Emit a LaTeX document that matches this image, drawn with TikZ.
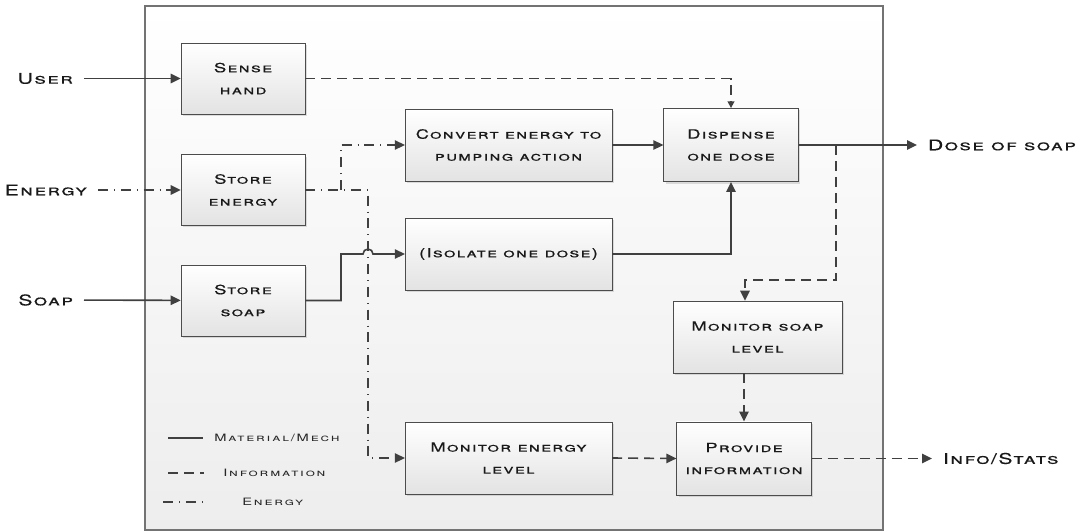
\documentclass[tikz,border=0pt]{standalone}
\usepackage{fontspec}
\setmainfont{TeX Gyre Heros}
\newfontfamily\flowfont{TeX Gyre Heros}[FakeStretch=1.45,LetterSpace=10,FakeBold=0.3]
\newfontfamily\legfont{TeX Gyre Heros}[FakeStretch=1.45,LetterSpace=18]
\usetikzlibrary{arrows.meta,shadows}

\begin{document}
\begin{tikzpicture}[x=0.75pt,y=-0.75pt,
	blk/.style={draw=black!70, top color=white, bottom color=black!11,
		drop shadow={opacity=0.25,shadow xshift=1.5pt,shadow yshift=-1.5pt},
		align=center, text=black!90, inner sep=2pt,
		font=\flowfont\scshape\fontsize{9.5}{16.5}\selectfont},
	sml/.style={minimum width=93pt, minimum height=53pt},
	wde/.style={minimum width=155pt, minimum height=54pt},
	lbl/.style={text=black!90, inner xsep=8pt, inner ysep=2pt,
		font=\flowfont\scshape\fontsize{11}{13}\selectfont},
	leg/.style={text=black!85, anchor=west, inner sep=0pt,
		font=\legfont\scshape\fontsize{7.6}{9}\selectfont},
	tip/.tip={Triangle[length=7.5pt,width=7pt]},
	tipS/.tip={Triangle[length=5pt,width=5pt]},
	mat/.style={draw=black!75, line width=1.2pt},
	inf/.style={draw=black!75, line width=1.2pt, dash pattern=on 7.5pt off 4.5pt},
	nrg/.style={draw=black!75, line width=1.2pt, dash pattern=on 7.5pt off 4.5pt on 0.6pt off 4.5pt}]

\useasboundingbox (0,0) rectangle (1086,532);
% frame
\draw[draw=black!55, top color=white, bottom color=black!7, line width=0.8pt] (145,6) rectangle (883,530);

% blocks
\node[blk, sml] (sense) at (243,78.5) {Sense\\hand};
\node[blk, sml] (ste) at (243,190) {Store\\energy};
\node[blk, sml] (sts) at (243,300.5) {Store\\soap};
\node[blk, wde] (conv) at (508.5,145) {Convert energy to\\pumping action};
\node[blk, wde] (iso) at (508.5,254) {(Isolate one dose)};
\node[blk, wde] (mone) at (508.5,458) {Monitor energy\\level};
\node[blk, minimum width=101pt, minimum height=55pt] (disp) at (731,145) {Dispense\\one dose};
\node[blk, minimum width=127pt, minimum height=54pt] (mons) at (757.5,337) {Monitor soap\\level};
\node[blk, minimum width=101pt, minimum height=55pt] (prov) at (744,458.5) {Provide\\information};

% outside
\node[lbl, anchor=east] (user) at (84,78.5) {User};
\node[lbl, anchor=east] (energy) at (98,190) {Energy};
\node[lbl, anchor=east] (soap) at (84,300) {Soap};
\node[lbl, anchor=west] (dose) at (917,145) {Dose of soap};
\node[lbl, anchor=west] (info) at (932,458.5) {Info/Stats};

\coordinate (ej) at (341,190);
\coordinate (dj) at (836,145);

% material
\draw[mat,-tip] (user) -- (sense);
\draw[mat,-tip] (soap) -- (sts);
\draw[mat,-tip] (sts.east) -- (341,300.5) -- (341,254) -- (363,254)
	arc[start angle=180,end angle=360,radius=5] -- (iso.west);
\draw[mat,-tip] (conv.east) -- (disp.west);
\draw[mat,-tip] (iso.east) -| (disp.south);
\draw[mat,-tip] (disp.east) -- (dose.west);

% energy
\draw[nrg,-tip] (energy) -- (ste);
\draw[nrg,-tip] (ste.east) -- (368,190) |- (mone.west);
\draw[nrg,-tip] (ej) |- (conv.west);

% information
\draw[inf,-tipS] (sense.east) -| (disp.north);
\draw[inf,-tip] (dj) -- (836,280) -- (745,280) -- (mons.north -| 745,280);
\draw[inf,-tip] (prov.north |- mons.south) -- (prov.north);
\draw[inf,-tip] (mone.east) -- (prov.west);
\draw[inf,-tip] (prov.east) -- (info.west);

% legend
\draw[mat] (168,438) -- (203,438);
\node[leg] (lmat) at (214,438) {Material/Mech};
\draw[inf] (168,473) -- (204,473);
\node[leg] (linf) at (223,473) {Information};
\draw[nrg] (163,502) -- (207,502);
\node[leg] (lnrg) at (242,502) {Energy};
\end{tikzpicture}
\end{document}
